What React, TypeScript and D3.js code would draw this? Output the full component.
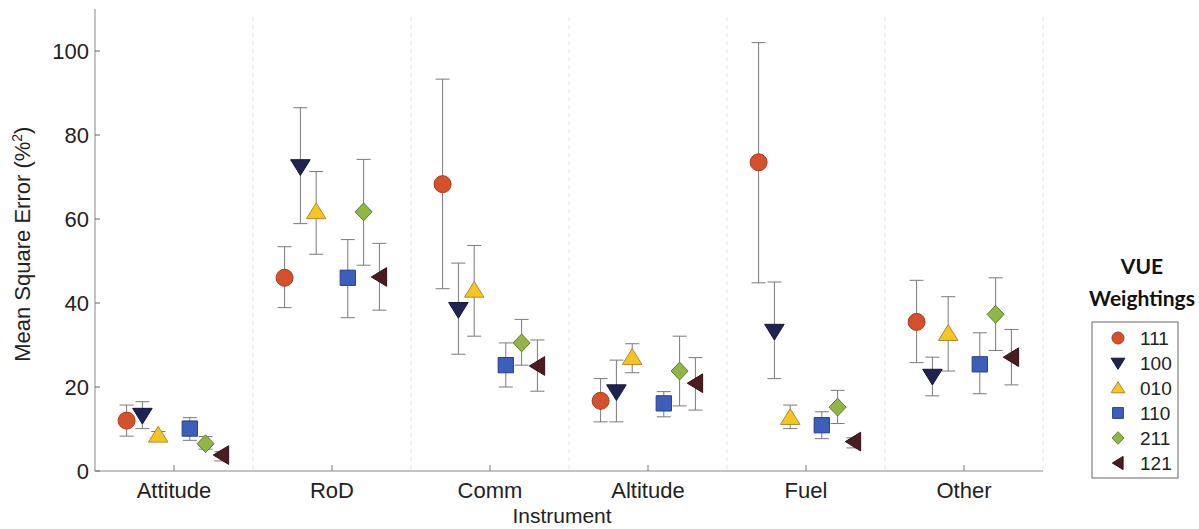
import React from "react";
import * as d3 from "d3";

// chart data
const instruments = ["Attitude", "RoD", "Comm", "Altitude", "Fuel", "Other"];
const weightings = ["111", "100", "010", "110", "211", "121"];

const mean111 = [12, 46, 68.3, 16.7, 73.5, 35.5];
const lo111 = [8.3, 38.9, 43.4, 11.7, 44.8, 25.8];
const hi111 = [15.7, 53.4, 93.3, 22, 102, 45.4];

const mean100 = [13.3, 72.5, 38.5, 18.9, 33.3, 22.6];
const lo100 = [10.1, 58.9, 27.8, 11.7, 22, 17.9];
const hi100 = [16.5, 86.5, 49.5, 26.4, 45, 27.1];

const mean010 = [8.5, 61.7, 43, 27, 12.7, 32.7];
const lo010 = [7.6, 51.6, 32.1, 23.4, 10.1, 23.8];
const hi010 = [9.4, 71.3, 53.7, 30.3, 15.7, 41.5];

const mean110 = [10.1, 46, 25.2, 16.1, 10.9, 25.4];
const lo110 = [7.3, 36.5, 20, 12.9, 7.7, 18.4];
const hi110 = [12.7, 55.1, 30.5, 18.9, 14.1, 32.9];

const mean211 = [6.5, 61.7, 30.5, 23.8, 15.2, 37.3];
const lo211 = [5.2, 49, 25.2, 15.5, 11.3, 28.7];
const hi211 = [8.2, 74.2, 36.1, 32.1, 19.2, 46];

const mean121 = [3.8, 46.2, 25, 20.9, 7, 27.1];
const lo121 = [2.4, 38.3, 19, 14.5, 5.5, 20.5];
const hi121 = [4.6, 54.2, 31.2, 27, 7.9, 33.7];

const yTicks = [0, 20, 40, 60, 80, 100];

const seriesList = [
  { name: weightings[0], mean: mean111, lo: lo111, hi: hi111 },
  { name: weightings[1], mean: mean100, lo: lo100, hi: hi100 },
  { name: weightings[2], mean: mean010, lo: lo010, hi: hi010 },
  { name: weightings[3], mean: mean110, lo: lo110, hi: hi110 },
  { name: weightings[4], mean: mean211, lo: lo211, hi: hi211 },
  { name: weightings[5], mean: mean121, lo: lo121, hi: hi121 },
];

// marker look per series
const markerStyle: Record<string, { shape: string; fill: string; stroke: string }> = {
  "111": { shape: "circle", fill: "#d4512b", stroke: "#a83a20" },
  "100": { shape: "down", fill: "#1e2352", stroke: "#14173a" },
  "010": { shape: "up", fill: "#f8c51f", stroke: "#a88a3a" },
  "110": { shape: "square", fill: "#3c5fba", stroke: "#2a3f88" },
  "211": { shape: "diamond", fill: "#8fb646", stroke: "#5f7d2c" },
  "121": { shape: "left", fill: "#4b1c20", stroke: "#2e1013" },
};

function markerPath(shape: string, s: number) {
  const h = s / 2;
  switch (shape) {
    case "circle":
      return d3.symbol(d3.symbolCircle, Math.PI * h * h)() as string;
    case "down":
      return `M${-h * 1.15},${-h * 0.8}L${h * 1.15},${-h * 0.8}L0,${h * 1.05}Z`;
    case "up":
      return `M${-h * 1.15},${h * 0.8}L${h * 1.15},${h * 0.8}L0,${-h * 1.05}Z`;
    case "square":
      return `M${-h * 0.9},${-h * 0.9}H${h * 0.9}V${h * 0.9}H${-h * 0.9}Z`;
    case "diamond":
      return `M0,${-h * 1.05}L${h},0L0,${h * 1.05}L${-h},0Z`;
    case "left":
      return `M${-h * 0.95},0L${h * 0.85},${-h * 1.1}L${h * 0.85},${h * 1.1}Z`;
    default:
      return "";
  }
}

const font = "Liberation Sans, Arial, sans-serif";

export default function App() {
  const width = 1199;
  const height = 529;
  const left = 95;
  const right = 1043;
  const bottom = 471;

  const x = d3.scaleBand().domain(instruments).range([left, right]).padding(0);
  const y = d3.scaleLinear().domain([0, 110]).range([bottom, bottom - 110 * 4.2]);
  const step = x.bandwidth() * 0.1;
  const slot = (i: number) => (i < 3 ? i - 3 : i - 2) * step;
  const cap = 7;

  return (
    <svg width={width} height={height} style={{ position: "absolute", left: 0, top: 0, background: "#fff" }}>
      {/* group separators */}
      {instruments.map((c) => (
        <line
          key={"sep" + c}
          x1={(x(c) as number) + x.bandwidth()}
          x2={(x(c) as number) + x.bandwidth()}
          y1={y(108)}
          y2={bottom}
          stroke="#e2e2e2"
          strokeDasharray="4,4"
        />
      ))}

      {/* axes */}
      <line x1={left} x2={left} y1={y(110)} y2={bottom} stroke="#888" />
      <line x1={left} x2={right} y1={bottom} y2={bottom} stroke="#888" />
      {yTicks.map((t) => (
        <g key={"yt" + t}>
          <line x1={left} x2={left + 5} y1={y(t)} y2={y(t)} stroke="#666" />
          <text x={left - 6} y={y(t)} dy="0.36em" textAnchor="end" fontSize={22} fontFamily={font} fill="#222">
            {t}
          </text>
        </g>
      ))}
      {instruments.map((c) => {
        const cx = (x(c) as number) + x.bandwidth() / 2;
        return (
          <g key={"xt" + c}>
            <line x1={cx} x2={cx} y1={bottom} y2={bottom - 6} stroke="#777" />
            <text x={cx} y={bottom + 27} textAnchor="middle" fontSize={22} fontFamily={font} fill="#222">
              {c}
            </text>
          </g>
        );
      })}
      <text x={562} y={bottom + 52} textAnchor="middle" fontSize={21} fontFamily={font} fill="#222">
        Instrument
      </text>
      <text
        transform={`translate(30,${y(54)}) rotate(-90)`}
        textAnchor="middle"
        fontSize={22}
        fontFamily={font}
        fill="#222"
      >
        Mean Square Error (%
        <tspan dy={-8} fontSize={14}>2</tspan>
        <tspan dy={8}>)</tspan>
      </text>

      {/* error bars */}
      {seriesList.map((s, i) => (
        <g key={"s" + s.name}>
          {instruments.map((c, j) => {
            const cx = (x(c) as number) + x.bandwidth() / 2 + slot(i);
            return (
              <g key={c}>
                <line x1={cx} x2={cx} y1={y(s.lo[j])} y2={y(s.hi[j])} stroke="#7a7a7a" />
                <line x1={cx - cap} x2={cx + cap} y1={y(s.lo[j])} y2={y(s.lo[j])} stroke="#7a7a7a" />
                <line x1={cx - cap} x2={cx + cap} y1={y(s.hi[j])} y2={y(s.hi[j])} stroke="#7a7a7a" />
              </g>
            );
          })}
        </g>
      ))}
      {/* markers */}
      {seriesList.map((s, i) => {
        const st = markerStyle[s.name];
        return (
          <g key={"m" + s.name}>
            {instruments.map((c, j) => {
              const cx = (x(c) as number) + x.bandwidth() / 2 + slot(i);
              return (
                <path
                  key={c}
                  d={markerPath(st.shape, 17)}
                  transform={`translate(${cx},${y(s.mean[j])})`}
                  fill={st.fill}
                  stroke={st.stroke}
                  strokeWidth={1}
                />
              );
            })}
          </g>
        );
      })}

      {/* legend */}
      <text x={1142} y={274} textAnchor="middle" fontSize={21} fontWeight={700} fontFamily="Lato, sans-serif" fill="#111">
        VUE
      </text>
      <text x={1142} y={306} textAnchor="middle" fontSize={21} fontWeight={700} fontFamily="Lato, sans-serif" fill="#111">
        Weightings
      </text>
      <rect x={1092} y={322} width={86} height={156} fill="#fff" stroke="#666" />
      {seriesList.map((s, i) => {
        const st = markerStyle[s.name];
        const ly = 338 + i * 25;
        return (
          <g key={"lg" + s.name}>
            <path d={markerPath(st.shape, 12)} transform={`translate(1118,${ly})`} fill={st.fill} stroke={st.stroke} />
            <text x={1140} y={ly} dy="0.36em" fontSize={19} fontFamily={font} fill="#222">
              {s.name}
            </text>
          </g>
        );
      })}
    </svg>
  );
}
